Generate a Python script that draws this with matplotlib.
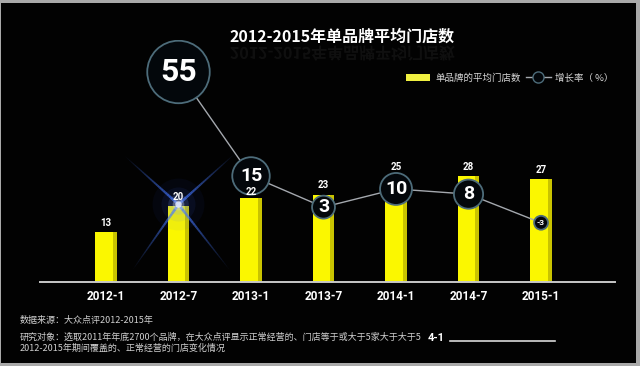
import numpy as np
import matplotlib
matplotlib.use("Agg")
import matplotlib.pyplot as plt
from matplotlib.patches import Patch, Rectangle, PathPatch
from matplotlib.lines import Line2D
from matplotlib.collections import LineCollection
from matplotlib.textpath import TextPath
from matplotlib.font_manager import FontProperties
from matplotlib.transforms import Affine2D, ScaledTranslation

# ---- data ----
periods = ["2012-1", "2012-7", "2013-1", "2013-7", "2014-1", "2014-7", "2015-1"]
stores = [13, 20, 22, 23, 25, 28, 27]          # 单品牌的平均门店数
growth = [55, 15, 3, 10, 8, -3]                # 增长率(%), from 2012-7 on
title = "2012-2015年单品牌平均门店数"
legend_labels = ["单品牌的平均门店数", "增长率（ %）"]
src_note = "数据来源：大众点评2012-2015年"
obj_note1 = "研究对象：选取2011年年底2700个品牌，在大众点评显示正常经营的、门店等于或大于5家大于大于5"
obj_note2 = "2012-2015年期间覆盖的、正常经营的门店变化情况"

# ---- style ----
CJK = ["Noto Sans CJK SC", "DejaVu Sans"]
NUM = ["Liberation Sans Narrow", "Roboto", "DejaVu Sans"]
plt.rcParams["font.family"] = CJK
YEL, YEL_D = "#fbf700", "#c9c300"
ring_size = [2025, 729, 272, 529, 441, 100]    # marker area (pt^2) per circle
ring_font = [23, 14, 14, 14, 14, 6]
label_pad = [3, 3, 1, 3, 11, 3, 3]

fig = plt.figure(figsize=(6.4, 3.66), dpi=100, facecolor="#020202")
ax = fig.add_axes([40 / 640, 1 - 281.5 / 366, 575 / 640, 241.5 / 366])
ax.set_facecolor("#020202")
x = np.arange(len(periods))
ax.set_xlim(-0.91, 7.02)
ax.set_ylim(0, 63.9)

w = 0.30
ax.bar(x, stores, w, color=YEL, zorder=2)
ax.bar(x + w / 2 - 0.028, stores, 0.056, color=YEL_D, zorder=2)

# lens flare on the 2012-7 bar
fx, fy = x[1], stores[1] + 0.4
flare = fig.dpi_scale_trans + ScaledTranslation(fx, fy, ax.transData)
for ang, length in [(42, 0.78), (138, 0.74), (-52, 0.85), (-125, 0.82)]:
    t = np.linspace(0, length, 30)
    px, py = t * np.cos(np.radians(ang)), t * np.sin(np.radians(ang))
    segs = [[(px[i], py[i]), (px[i + 1], py[i + 1])] for i in range(len(t) - 1)]
    fade = np.linspace(0.8, 0.0, len(segs))
    cols = [(0.28, 0.48, 1.0, a) for a in fade]
    ax.add_collection(LineCollection(segs, colors=cols, linewidths=np.linspace(2.0, 0.5, len(segs)),
                                     transform=flare, zorder=3))
for s, a, c in [(1400, 0.05, "#2a55ff"), (600, 0.08, "#3a66ff"), (220, 0.16, "#7f9fff"),
                (70, 0.35, "#c8d8ff"), (22, 0.7, "#ffffff")]:
    ax.scatter([fx], [fy], s=s, color=c, alpha=a, lw=0, zorder=3)

ax.set_xticks(x)
ax.set_xticklabels(periods, color="white", fontsize=8.5, fontweight="bold", family=NUM)
ax.tick_params(axis="x", length=0, pad=6)
ax.set_yticks([])
for k in ["top", "left", "right"]:
    ax.spines[k].set_visible(False)
ax.spines["bottom"].set_color("#c8c8c8")
ax.spines["bottom"].set_linewidth(1.4)

# growth rate line with ringed markers
ax2 = ax.twinx()
ax2.set_ylim(-25.6, 67.3)
ax2.axis("off")
ax2.plot(x[1:], growth, color="#a4a8ae", lw=1.0, zorder=2)
ax2.scatter(x[1:], growth, s=ring_size, facecolor="#03070b", edgecolor="#4d6c7a",
            linewidth=1.3, zorder=3)
for xi, g, fs in zip(x[1:], growth, ring_font):
    ax2.text(xi, g, str(g), ha="center", va="center", color="white", fontsize=fs,
             fontweight="bold", family=NUM, zorder=4)

# bar value labels, drawn on the top layer so rings never hide them
for xi, v, p in zip(x, stores, label_pad):
    ax2.annotate(str(v), (xi, v), xycoords=ax.transData, xytext=(0, p), textcoords="offset points",
                 ha="center", va="bottom", color="white", fontsize=7,
                 fontweight="bold", family=NUM, zorder=5)

# title and its faint reflection
fig.text(342 / 640, 1 - 37 / 366, title, ha="center", va="center", color="white",
         fontsize=11.5, fontweight="bold")
tp = TextPath((0, 0), title, prop=FontProperties(family="Noto Sans CJK SC", weight="bold", size=11.5))
tw = tp.get_extents().width
mirror = Affine2D().translate(-tw / 2, 0).scale(1 / 72, -1 / 72).translate(3.42, (366 - 47) / 100)
fig.patches.append(PathPatch(tp, transform=mirror + fig.dpi_scale_trans, color="#8a8a8a",
                             alpha=0.1, lw=0, figure=fig))

# legend
handles = [Patch(facecolor="#f0f040", edgecolor="none"),
           Line2D([], [], color="#a4a8ae", lw=1, marker="o", markersize=8,
                  markerfacecolor="#03070b", markeredgecolor="#4d6c7a")]
fig.legend(handles, legend_labels, loc="center left",
           bbox_to_anchor=(401 / 640, 1 - 78 / 366), ncol=2, frameon=False, fontsize=6.8,
           labelcolor="#d8d8d8", handlelength=2.6, handletextpad=0.5, columnspacing=0.6,
           borderpad=0)

# notes
fig.text(20 / 640, 1 - 320 / 366, src_note, ha="left", va="center", color="#d0d0d0", fontsize=6.5)
fig.text(20 / 640, 1 - 337 / 366, obj_note1, ha="left", va="center", color="#d0d0d0", fontsize=6.5)
fig.text(20 / 640, 1 - 348 / 366, obj_note2, ha="left", va="center", color="#d0d0d0", fontsize=6.5)
fig.text(428 / 640, 1 - 338 / 366, "4-1", ha="left", va="center", color="white", fontsize=8,
         fontweight="bold", family=NUM)
fig.add_artist(Line2D([450 / 640, 555 / 640], [1 - 341 / 366] * 2, color="#d8d8d8", lw=1.2))

# grey frame
for (x0, y0, ww, hh) in [(0, 363, 640, 3), (0, 0, 640, 3), (636, 0, 4, 366), (0, 0, 1, 366)]:
    fig.patches.append(Rectangle((x0 / 640, 1 - (y0 + hh) / 366), ww / 640, hh / 366,
                                 transform=fig.transFigure, color="#a9a9a9", lw=0, figure=fig))

fig.savefig("out.png", dpi=100, facecolor=fig.get_facecolor())
